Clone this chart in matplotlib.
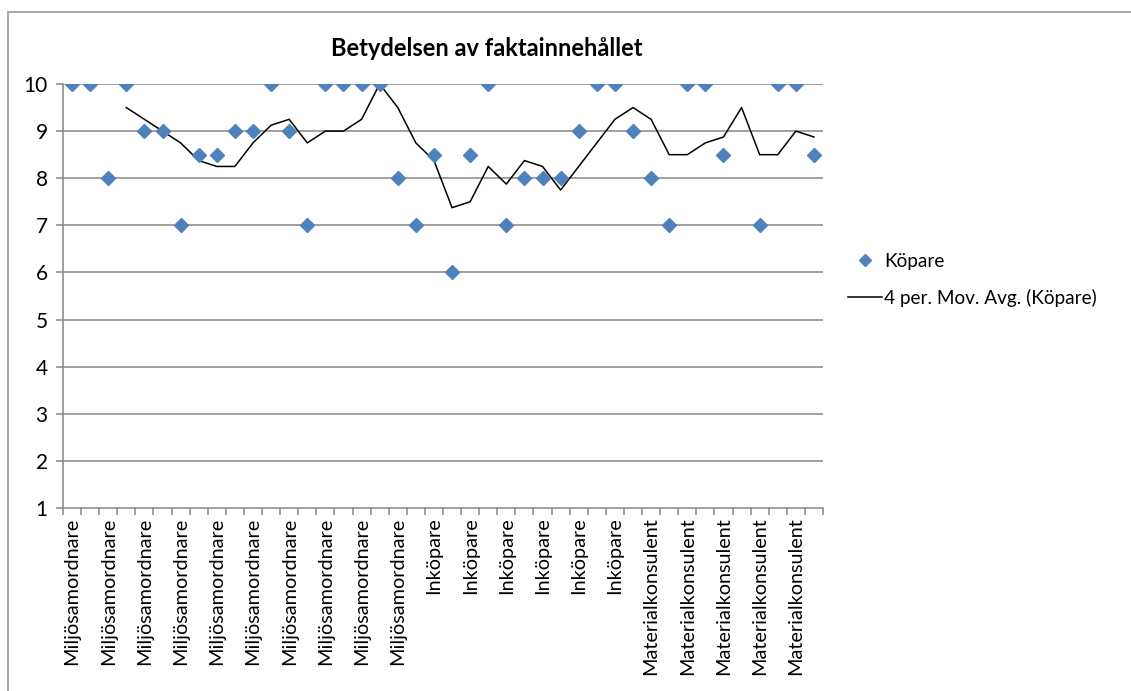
import numpy as np
import matplotlib
matplotlib.use('Agg')
import matplotlib.pyplot as plt
from matplotlib.lines import Line2D
from matplotlib.patches import Rectangle

plt.rcParams['font.family'] = ['Lato', 'DejaVu Sans']

# Categories (respondent role per answer)
roles = ['Miljösamordnare'] * 20 + ['Inköpare'] * 12 + ['Materialkonsulent'] * 10

# Köpare scores (None = no answer)
scores = [10, 10, 8, 10, 9, 9, 7, 8.5, 8.5, 9,
          9, 10, 9, 7, 10, 10, 10, 10, 8, 7,
          8.5, 6, 8.5, 10, 7, 8, 8, 8, 9, 10,
          10, 9, 8, 7, 10, 10, 8.5, None, 7, 10,
          10, 8.5]

# 4 period moving average as read from the trendline
mov_avg = [None, None, None, 9.5, 9.25, 9, 8.75, 8.375, 8.25, 8.25,
           8.75, 9.125, 9.25, 8.75, 9, 9, 9.25, 10, 9.5, 8.75,
           8.375, 7.375, 7.5, 8.25, 7.875, 8.375, 8.25, 7.75, 8.25, 8.75,
           9.25, 9.5, 9.25, 8.5, 8.5, 8.75, 8.875, 9.5, 8.5, 8.5,
           9, 8.875]

W, H = 1131, 691
fig = plt.figure(figsize=(W / 100, H / 100), dpi=100)
ax = fig.add_axes([63 / W, (H - 508) / H, (823 - 63) / W, (508 - 84) / H])

x = np.arange(1, len(roles) + 1)
y = np.array([np.nan if v is None else v for v in scores], dtype=float)
ma = np.array([np.nan if v is None else v for v in mov_avg], dtype=float)

grid_c = '#868686'
blue = '#4F81BD'
fs = 14.3

ax.set_ylim(1, 10)
ax.set_xlim(0.5, len(roles) + 0.5)
ax.set_yticks(range(1, 11))
for v in range(2, 11):
    ax.axhline(v, color=grid_c, lw=1.1, zorder=1)

ax.plot(x, ma, color='black', lw=1.1, zorder=2)
ax.plot(x, y, linestyle='none', marker='D', ms=7.6, color=blue, mec=blue, zorder=3)

for s in ['top', 'right']:
    ax.spines[s].set_visible(False)
for s in ['left', 'bottom']:
    ax.spines[s].set_color(grid_c)
    ax.spines[s].set_linewidth(1.1)

# ticks at category boundaries, labels every other category
ax.set_xticks(np.arange(0.5, len(roles) + 1, 1))
ax.set_xticklabels([])
ax.set_xticks(x[::2], minor=True)
ax.set_xticklabels(roles[::2], minor=True, rotation=90, fontsize=fs)
ax.tick_params(axis='x', which='major', length=5, color=grid_c, width=1.1)
ax.tick_params(axis='x', which='minor', length=0, pad=7)
ax.tick_params(axis='y', length=5, color=grid_c, width=1.1, labelsize=15, pad=6)

fig.text(487 / W, (H - 48) / H, 'Betydelsen av faktainnehållet', ha='center', va='center',
         fontsize=17, fontweight='bold')

# chart area border
fig.add_artist(Rectangle((8 / W, -0.1), 2, (H - 12) / H + 0.1, transform=fig.transFigure,
                         fill=False, edgecolor='#9a9a9a', lw=1.2, clip_on=False))

handles = [Line2D([], [], linestyle='none', marker='D', ms=6, color=blue),
           Line2D([], [], color='black', lw=1.1)]
fig.legend(handles, ['Köpare', '4 per. Mov. Avg. (Köpare)'], loc='center left',
           bbox_to_anchor=(831 / W, (H - 280) / H), frameon=False, fontsize=13.7,
           handlelength=1.8, handletextpad=0.1, labelspacing=1.0)

fig.savefig('out.png', dpi=100)
